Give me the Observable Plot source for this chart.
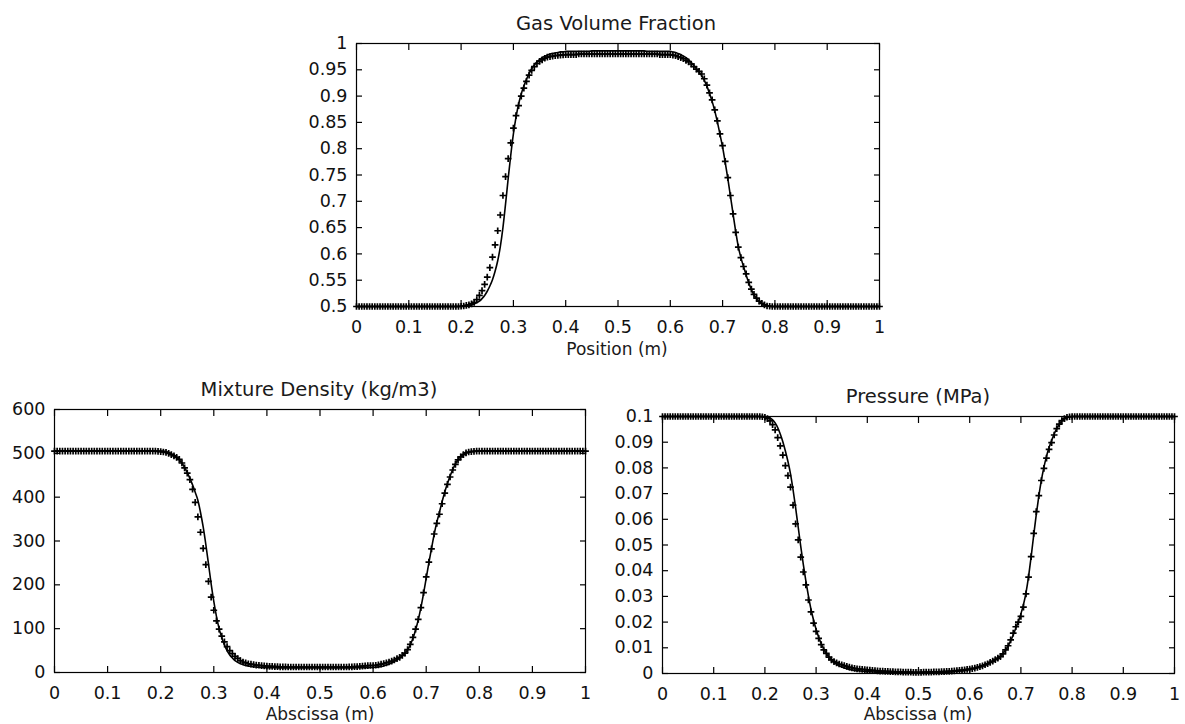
<!DOCTYPE html>
<html><head><meta charset="utf-8">
<script src="https://cdn.jsdelivr.net/npm/d3@7"></script>
<script src="https://cdn.jsdelivr.net/npm/@observablehq/plot@0.6"></script>
<style>
body{margin:0;background:#fff;width:1185px;height:724px;position:relative;overflow:hidden;font-family:"DejaVu Sans",sans-serif;color:#1a1a1a}
.abs{position:absolute}
.t{position:absolute;white-space:nowrap;transform:translateX(-50%);line-height:1}
</style></head><body>
<div id="pTop" class="abs" style="left:280px;top:30px"></div>
<div id="pLeft" class="abs" style="left:0px;top:400px"></div>
<div id="pRight" class="abs" style="left:600px;top:400px"></div>
<div class="t" style="left:616px;top:13.5px;font-size:19.5px">Gas Volume Fraction</div>
<div class="t" style="left:617px;top:340.6px;font-size:17px">Position (m)</div>
<div class="t" style="left:319px;top:379.5px;font-size:19.5px">Mixture Density (kg/m3)</div>
<div class="t" style="left:320px;top:705.6px;font-size:17px">Abscissa (m)</div>
<div class="t" style="left:918px;top:386.5px;font-size:19.5px">Pressure (MPa)</div>
<div class="t" style="left:918px;top:705.6px;font-size:17px">Abscissa (m)</div>
<script>
// sample positions (m)
const xs = [
0,0.005,0.01,0.015,0.02,0.025,0.03,0.035,0.04,0.045,
0.05,0.055,0.06,0.065,0.07,0.075,0.08,0.085,0.09,0.095,
0.1,0.105,0.11,0.115,0.12,0.125,0.13,0.135,0.14,0.145,
0.15,0.155,0.16,0.165,0.17,0.175,0.18,0.185,0.19,0.195,
0.2,0.205,0.21,0.215,0.22,0.225,0.23,0.235,0.24,0.245,
0.25,0.255,0.26,0.265,0.27,0.275,0.28,0.285,0.29,0.295,
0.3,0.305,0.31,0.315,0.32,0.325,0.33,0.335,0.34,0.345,
0.35,0.355,0.36,0.365,0.37,0.375,0.38,0.385,0.39,0.395,
0.4,0.405,0.41,0.415,0.42,0.425,0.43,0.435,0.44,0.445,
0.45,0.455,0.46,0.465,0.47,0.475,0.48,0.485,0.49,0.495,
0.5,0.505,0.51,0.515,0.52,0.525,0.53,0.535,0.54,0.545,
0.55,0.555,0.56,0.565,0.57,0.575,0.58,0.585,0.59,0.595,
0.6,0.605,0.61,0.615,0.62,0.625,0.63,0.635,0.64,0.645,
0.65,0.655,0.66,0.665,0.67,0.675,0.68,0.685,0.69,0.695,
0.7,0.705,0.71,0.715,0.72,0.725,0.73,0.735,0.74,0.745,
0.75,0.755,0.76,0.765,0.77,0.775,0.78,0.785,0.79,0.795,
0.8,0.805,0.81,0.815,0.82,0.825,0.83,0.835,0.84,0.845,
0.85,0.855,0.86,0.865,0.87,0.875,0.88,0.885,0.89,0.895,
0.9,0.905,0.91,0.915,0.92,0.925,0.93,0.935,0.94,0.945,
0.95,0.955,0.96,0.965,0.97,0.975,0.98,0.985,0.99,0.995,
1];

// Gas volume fraction: reference (+) and computed (line)
const alphaRef = [
0.5,0.5,0.5,0.5,0.5,0.5,0.5,0.5,0.5,0.5,
0.5,0.5,0.5,0.5,0.5,0.5,0.5,0.5,0.5,0.5,
0.5,0.5,0.5,0.5,0.5,0.5,0.5,0.5,0.5,0.5,
0.5,0.5,0.5,0.5,0.5,0.5,0.5,0.5,0.5,0.5,
0.5005,0.501,0.502,0.503,0.505,0.508,0.513,0.521,0.530,0.542,
0.556,0.574,0.594,0.617,0.644,0.674,0.711,0.747,0.781,0.811,
0.839,0.863,0.882,0.9,0.915,0.928,0.94,0.949,0.956,0.962,
0.966,0.969,0.972,0.974,0.975,0.976,0.977,0.9775,0.978,0.9785,
0.979,0.979,0.979,0.979,0.979,0.98,0.98,0.98,0.98,0.98,
0.98,0.98,0.98,0.98,0.98,0.98,0.98,0.98,0.98,0.98,
0.98,0.98,0.98,0.98,0.98,0.98,0.98,0.98,0.98,0.98,
0.98,0.98,0.98,0.98,0.98,0.98,0.979,0.979,0.979,0.979,
0.979,0.978,0.977,0.975,0.973,0.971,0.968,0.965,0.961,0.956,
0.951,0.947,0.942,0.933,0.921,0.906,0.893,0.874,0.853,0.828,
0.806,0.776,0.745,0.711,0.676,0.641,0.613,0.593,0.576,0.562,
0.546,0.533,0.523,0.516,0.51,0.506,0.503,0.501,0.5005,0.5,
0.5,0.5,0.5,0.5,0.5,0.5,0.5,0.5,0.5,0.5,
0.5,0.5,0.5,0.5,0.5,0.5,0.5,0.5,0.5,0.5,
0.5,0.5,0.5,0.5,0.5,0.5,0.5,0.5,0.5,0.5,
0.5,0.5,0.5,0.5,0.5,0.5,0.5,0.5,0.5,0.5,
0.5];
const alphaSim = [
0.5,0.5,0.5,0.5,0.5,0.5,0.5,0.5,0.5,0.5,
0.5,0.5,0.5,0.5,0.5,0.5,0.5,0.5,0.5,0.5,
0.5,0.5,0.5,0.5,0.5,0.5,0.5,0.5,0.5,0.5,
0.5,0.5,0.5,0.5,0.5,0.5,0.5,0.5,0.5,0.5,
0.5,0.5003,0.501,0.502,0.503,0.505,0.507,0.51,0.515,0.521,
0.529,0.539,0.551,0.567,0.587,0.614,0.65,0.695,0.743,0.788,
0.828,0.86,0.885,0.904,0.919,0.932,0.943,0.952,0.959,0.965,
0.969,0.973,0.976,0.978,0.98,0.981,0.982,0.983,0.984,0.984,
0.985,0.985,0.985,0.985,0.985,0.985,0.985,0.985,0.985,0.985,
0.986,0.986,0.986,0.986,0.986,0.986,0.986,0.986,0.986,0.986,
0.986,0.986,0.986,0.986,0.986,0.986,0.986,0.986,0.986,0.986,
0.986,0.985,0.985,0.985,0.985,0.985,0.985,0.985,0.985,0.985,
0.985,0.984,0.983,0.981,0.979,0.976,0.973,0.969,0.964,0.958,
0.952,0.946,0.939,0.93,0.919,0.905,0.89,0.872,0.851,0.827,
0.803,0.774,0.743,0.71,0.676,0.643,0.614,0.593,0.576,0.56,
0.545,0.532,0.522,0.515,0.509,0.505,0.503,0.501,0.5005,0.5,
0.5,0.5,0.5,0.5,0.5,0.5,0.5,0.5,0.5,0.5,
0.5,0.5,0.5,0.5,0.5,0.5,0.5,0.5,0.5,0.5,
0.5,0.5,0.5,0.5,0.5,0.5,0.5,0.5,0.5,0.5,
0.5,0.5,0.5,0.5,0.5,0.5,0.5,0.5,0.5,0.5,
0.5];

// Mixture density (kg/m3)
const rhoRef = [
505,505,505,505,505,505,505,505,505,505,
505,505,505,505,505,505,505,505,505,505,
505,505,505,505,505,505,505,505,505,505,
505,505,505,505,505,505,505,505,505,504.5,
504,503,502,500,497,494,491,486,478,467,
455,440,418,388,355,320,283,246,208,172,
142,118,99,83,70,59,50,43,37,32,
27,24,22,20,19,18,17,16.5,15.5,15,
14.5,14,14,13.5,13.5,13,13,13,12.5,12.5,
12.5,12.5,12.5,12.5,12.5,12.5,12.5,12.5,12.5,12.5,
12.5,12.5,12.5,12.5,12.5,12.5,12.5,12.5,12.5,12.5,
12.5,13,13,13.5,13.5,14,14.5,15,15.5,16,
16,16.5,17.5,19,20.5,22,24,26,28.5,31.5,
34.5,39,44,52,64,80,99,121,148,182,
218,252,282,316,340,361,385,409,429,446,
462,475,485,492,497,501,503,504,504.5,505,
505,505,505,505,505,505,505,505,505,505,
505,505,505,505,505,505,505,505,505,505,
505,505,505,505,505,505,505,505,505,505,
505,505,505,505,505,505,505,505,505,505,
505];
const rhoSim = [
505,505,505,505,505,505,505,505,505,505,
505,505,505,505,505,505,505,505,505,505,
505,505,505,505,505,505,505,505,505,505,
505,505,505,505,505,505,505,505,505,505,
505,505,504,502,499,496,491,485,478,468,
456,443,428,411,393,365,332,292,248,202,
162,128,100,80,63,50,40,33,27,23,
20,18,16,15,14,13,12.5,12,11.5,11,
11,11,10.8,10.8,10.6,10.6,10.5,10.5,10.5,10.5,
10.5,10.5,10.5,10.5,10.5,10.5,10.5,10.5,10.5,10.5,
10.5,10.5,10.5,10.5,10.5,10.5,10.5,10.5,10.5,10.5,
10.5,10.5,10.6,10.6,10.8,10.8,11,11,11.2,11.4,
11.6,12,12.8,13.8,15,17,19,22,25,29,
33,38,44,52,63,78,97,120,148,180,
215,250,283,315,343,366,390,412,431,448,
463,476,486,493,498,501,503,504,504.5,505,
505,505,505,505,505,505,505,505,505,505,
505,505,505,505,505,505,505,505,505,505,
505,505,505,505,505,505,505,505,505,505,
505,505,505,505,505,505,505,505,505,505,
505];

// Pressure (MPa)
const pRef = [
0.1,0.1,0.1,0.1,0.1,0.1,0.1,0.1,0.1,0.1,
0.1,0.1,0.1,0.1,0.1,0.1,0.1,0.1,0.1,0.1,
0.1,0.1,0.1,0.1,0.1,0.1,0.1,0.1,0.1,0.1,
0.1,0.1,0.1,0.1,0.1,0.1,0.1,0.1,0.1,0.0999,
0.0997,0.0992,0.0983,0.0968,0.0948,0.0918,0.0886,0.085,0.0809,0.077,
0.0725,0.0655,0.0582,0.052,0.0453,0.0395,0.0345,0.0286,0.024,0.0196,
0.0164,0.0137,0.0112,0.0092,0.0078,0.0064,0.0053,0.0046,0.0041,0.0037,
0.0034,0.0031,0.0028,0.0025,0.0022,0.002,0.0018,0.0017,0.0016,0.0015,
0.0014,0.0013,0.0012,0.0011,0.001,0.0009,0.0009,0.0008,0.0008,0.0007,
0.0007,0.0006,0.0006,0.0006,0.0005,0.0005,0.0005,0.0005,0.0004,0.0004,
0.0004,0.0004,0.0005,0.0005,0.0005,0.0005,0.0006,0.0006,0.0006,0.0007,
0.0007,0.0008,0.0008,0.0009,0.001,0.0011,0.0012,0.0013,0.0014,0.0016,
0.0017,0.0019,0.0021,0.0024,0.0027,0.003,0.0034,0.0038,0.0043,0.0048,
0.0054,0.006,0.0066,0.0076,0.0092,0.0108,0.0131,0.0157,0.0182,0.02,
0.0222,0.0258,0.031,0.0375,0.0455,0.0545,0.063,0.0692,0.0751,0.0798,
0.0838,0.0872,0.0898,0.0928,0.0953,0.097,0.0984,0.0992,0.0997,0.0999,
0.1,0.1,0.1,0.1,0.1,0.1,0.1,0.1,0.1,0.1,
0.1,0.1,0.1,0.1,0.1,0.1,0.1,0.1,0.1,0.1,
0.1,0.1,0.1,0.1,0.1,0.1,0.1,0.1,0.1,0.1,
0.1,0.1,0.1,0.1,0.1,0.1,0.1,0.1,0.1,0.1,
0.1];
const pSim = [
0.1,0.1,0.1,0.1,0.1,0.1,0.1,0.1,0.1,0.1,
0.1,0.1,0.1,0.1,0.1,0.1,0.1,0.1,0.1,0.1,
0.1,0.1,0.1,0.1,0.1,0.1,0.1,0.1,0.1,0.1,
0.1,0.1,0.1,0.1,0.1,0.1,0.1,0.1,0.1,0.1,
0.1,0.0998,0.0994,0.0987,0.0975,0.0957,0.0932,0.0902,0.0866,0.0825,
0.0777,0.0715,0.0645,0.057,0.0495,0.0425,0.036,0.0302,0.025,0.0208,
0.0172,0.0142,0.0116,0.0095,0.0078,0.0064,0.0052,0.0043,0.0036,0.003,
0.0026,0.0022,0.0019,0.0016,0.0014,0.0012,0.0011,0.001,0.0009,0.0008,
0.0007,0.0007,0.0006,0.0006,0.0005,0.0005,0.0005,0.0004,0.0004,0.0004,
0.0004,0.0003,0.0003,0.0003,0.0003,0.0003,0.0003,0.0003,0.0003,0.0003,
0.0003,0.0003,0.0003,0.0003,0.0003,0.0003,0.0004,0.0004,0.0004,0.0004,
0.0004,0.0005,0.0005,0.0006,0.0007,0.0008,0.0009,0.001,0.0011,0.0013,
0.0015,0.0017,0.0019,0.0022,0.0025,0.0028,0.0032,0.0036,0.0041,0.0047,
0.0053,0.006,0.0068,0.0078,0.0091,0.0107,0.0127,0.015,0.0176,0.0202,
0.0232,0.0268,0.0315,0.0378,0.0455,0.0538,0.0618,0.069,0.0752,0.0803,
0.0845,0.0879,0.0907,0.0932,0.0953,0.097,0.0983,0.0992,0.0997,0.0999,
0.1,0.1,0.1,0.1,0.1,0.1,0.1,0.1,0.1,0.1,
0.1,0.1,0.1,0.1,0.1,0.1,0.1,0.1,0.1,0.1,
0.1,0.1,0.1,0.1,0.1,0.1,0.1,0.1,0.1,0.1,
0.1,0.1,0.1,0.1,0.1,0.1,0.1,0.1,0.1,0.1,
0.1];

// tick values
const xTicks = [0,0.1,0.2,0.3,0.4,0.5,0.6,0.7,0.8,0.9,1];
const alphaTicks = [0.5,0.55,0.6,0.65,0.7,0.75,0.8,0.85,0.9,0.95,1];
const rhoTicks = [0,100,200,300,400,500,600];
const pTicks = [0,0.01,0.02,0.03,0.04,0.05,0.06,0.07,0.08,0.09,0.1];

const fmt = d3.format("~g");
const blank = () => "";
const TK = 6;

function panel(el, {width, height, ml, mr, mt, mb, yDomain, yTicks, ref, sim}) {
  const refData = xs.map((x, i) => ({x, y: ref[i]}));
  const simData = xs.map((x, i) => ({x, y: sim[i]}));
  const chart = Plot.plot({
    width, height,
    marginLeft: ml, marginRight: mr, marginTop: mt, marginBottom: mb,
    style: {fontFamily: "'DejaVu Sans', sans-serif", fontSize: "17.5px", color: "#111", background: "white", overflow: "visible"},
    x: {domain: [0, 1]},
    y: {domain: yDomain},
    marks: [
      // tick labels
      Plot.axisX({ticks: xTicks, anchor: "bottom", tickSize: 0, tickPadding: 14, tickFormat: fmt, label: null}),
      Plot.axisY({ticks: yTicks, anchor: "left", tickSize: 0, tickPadding: 9, tickFormat: fmt, label: null}),
      // inward tick marks on all four sides
      Plot.axisX({ticks: xTicks, anchor: "bottom", tickSize: TK, dy: -TK, tickFormat: blank, label: null, stroke: "black", strokeWidth: 1.2}),
      Plot.axisX({ticks: xTicks, anchor: "top", tickSize: TK, dy: TK, tickFormat: blank, label: null, stroke: "black", strokeWidth: 1.2}),
      Plot.axisY({ticks: yTicks, anchor: "left", tickSize: TK, dx: TK, tickFormat: blank, label: null, stroke: "black", strokeWidth: 1.2}),
      Plot.axisY({ticks: yTicks, anchor: "right", tickSize: TK, dx: -TK, tickFormat: blank, label: null, stroke: "black", strokeWidth: 1.2}),
      Plot.frame({stroke: "black", strokeWidth: 1.2}),
      Plot.line(simData, {x: "x", y: "y", stroke: "black", strokeWidth: 1.6, curve: "monotone-x"}),
      Plot.dot(refData, {x: "x", y: "y", symbol: "plus", r: 2.3, stroke: "black", strokeWidth: 1.7})
    ]
  });
  document.getElementById(el).appendChild(chart);
}

panel("pTop", {width: 620, height: 320, ml: 76, mr: 21, mt: 13, mb: 44, yDomain: [0.5, 1], yTicks: alphaTicks, ref: alphaRef, sim: alphaSim});
panel("pLeft", {width: 600, height: 300, ml: 54, mr: 15, mt: 9, mb: 28, yDomain: [0, 600], yTicks: rhoTicks, ref: rhoRef, sim: rhoSim});
panel("pRight", {width: 585, height: 300, ml: 62, mr: 11, mt: 16, mb: 27, yDomain: [0, 0.1], yTicks: pTicks, ref: pRef, sim: pSim});
</script>
</body></html>
